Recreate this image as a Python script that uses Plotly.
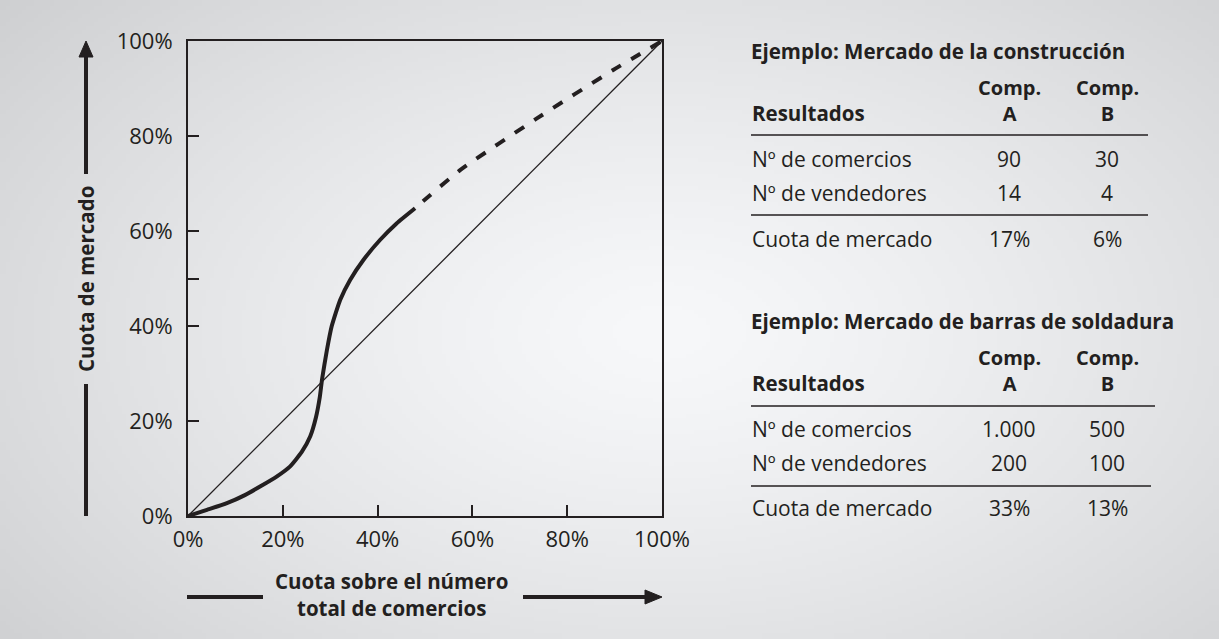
import base64, struct, zlib
import numpy as np
import plotly.graph_objects as go

# ---------------- data ----------------
curve_x = [0, 4, 8.2, 12, 15.2, 18.7, 21.5, 24.0, 25.8, 27.0, 27.8, 28.3, 29.3, 30.3, 32.1, 34.2, 37.0, 40.5, 44.0, 47.9]
curve_y = [0, 1.3, 2.7, 4.4, 6.2, 8.3, 10.4, 13.5, 16.8, 20.8, 25.0, 28.9, 34.9, 39.9, 45.5, 49.7, 53.9, 58.1, 61.6, 64.8]
dash_x = [47.9, 57.4, 73.6, 89.7, 100]
dash_y = [64.8, 72.8, 83.7, 93.9, 100]
diag_x = [0, 100]
diag_y = [0, 100]

x_tickvals = [0, 20, 40, 60, 80, 100]
x_ticktext = ["0%", "20%", "40%", "60%", "80%", "100%"]
y_tickvals = [0, 20, 40, 50, 60, 80, 100]
y_ticktext = ["0%", "20%", "40%", "", "60%", "80%", "100%"]

x_title = ["Cuota sobre el número", "total de comercios"]
y_title = "Cuota de mercado"

row_labels = ["Nº de comercios", "Nº de vendedores", "Cuota de mercado"]
col_head1 = ["Comp.", "Comp."]
col_head2 = ["A", "B"]
t1_title = "Ejemplo: Mercado de la construcción"
t1_A = ["90", "14", "17%"]
t1_B = ["30", "4", "6%"]
t2_title = "Ejemplo: Mercado de barras de soldadura"
t2_A = ["1.000", "200", "33%"]
t2_B = ["500", "100", "13%"]

# ---------------- layout geometry (pixels) ----------------
W, H = 1219, 639
L, R, T, B = 188, 662, 41, 516
PW, PH = R - L, B - T
INK = "#231f20"
FONT = "Open Sans"
BOLD_SIZE = 20.5
HEAD_SIZE = 20
BODY_SIZE = 21
TICK_SIZE = 22


def px(x):
    return (x - L) / PW


def py(y):
    return (B - y) / PH


# ---------------- background gradient ----------------
def make_png(arr):
    h, w, _ = arr.shape
    raw = b"".join(b"\x00" + arr[i].tobytes() for i in range(h))

    def chunk(tag, data):
        c = struct.pack(">I", len(data)) + tag + data
        return c + struct.pack(">I", zlib.crc32(tag + data) & 0xffffffff)

    png = b"\x89PNG\r\n\x1a\n"
    png += chunk(b"IHDR", struct.pack(">IIBBBBB", w, h, 8, 2, 0, 0, 0))
    png += chunk(b"IDAT", zlib.compress(raw, 9))
    png += chunk(b"IEND", b"")
    return "data:image/png;base64," + base64.b64encode(png).decode()


gw, gh = 305, 160
yy, xx = np.mgrid[0:gh, 0:gw]
xx = xx * W / gw
yy = yy * H / gh
d = np.sqrt(((xx - 660) / 720) ** 2 + ((yy - 330) / 430) ** 2)
v = 249 - 32 * np.clip(d, 0, 1.3) ** 1.3
rgb = np.stack([v - 2, v - 1, v + 1], axis=-1)
rgb = np.clip(rgb, 0, 255).astype(np.uint8)
bg_src = make_png(rgb)

# ---------------- figure ----------------
fig = go.Figure()
fig.add_trace(go.Scatter(x=diag_x, y=diag_y, mode="lines",
                         line=dict(color=INK, width=1.3), hoverinfo="skip"))
fig.add_trace(go.Scatter(x=dash_x, y=dash_y, mode="lines",
                         line=dict(color=INK, width=4, dash="0px,10px,11px,2px", shape="spline", smoothing=0.6),
                         hoverinfo="skip"))
fig.add_trace(go.Scatter(x=curve_x, y=curve_y, mode="lines",
                         line=dict(color=INK, width=4, shape="spline", smoothing=0.5),
                         hoverinfo="skip"))

axis_common = dict(range=[0, 100], showgrid=False, zeroline=False, showline=True, mirror=True,
                   linecolor=INK, linewidth=2, ticks="inside", ticklen=11, tickwidth=2,
                   tickcolor=INK, tickfont=dict(family=FONT, size=TICK_SIZE, color=INK), fixedrange=True)
fig.update_xaxes(**axis_common, tickvals=x_tickvals, ticktext=x_ticktext, ticklabelstandoff=3)
fig.update_yaxes(**axis_common, tickvals=y_tickvals, ticktext=y_ticktext, ticklabelstandoff=9)

shapes = []
annotations = []

# y-axis arrow
ax_x = px(86)
shapes.append(dict(type="line", xref="paper", yref="paper", x0=ax_x, x1=ax_x, y0=py(516), y1=py(384),
                   line=dict(color=INK, width=4)))
shapes.append(dict(type="line", xref="paper", yref="paper", x0=ax_x, x1=ax_x, y0=py(174), y1=py(54),
                   line=dict(color=INK, width=4)))
shapes.append(dict(type="path", xref="paper", yref="paper",
                   path=f"M {px(79)} {py(57)} L {px(86)} {py(41)} L {px(93)} {py(57)} Z",
                   fillcolor=INK, line=dict(color=INK, width=1)))
annotations.append(dict(text=f"<b>{y_title}</b>", xref="paper", yref="paper", x=ax_x, y=py(279),
                        textangle=-90, showarrow=False, xanchor="center", yanchor="middle",
                        font=dict(family=FONT, size=BOLD_SIZE, color=INK)))

# x-axis arrow
shapes.append(dict(type="line", xref="paper", yref="paper", x0=px(187), x1=px(263), y0=py(597), y1=py(597),
                   line=dict(color=INK, width=4)))
shapes.append(dict(type="line", xref="paper", yref="paper", x0=px(523), x1=px(648), y0=py(597), y1=py(597),
                   line=dict(color=INK, width=4)))
shapes.append(dict(type="path", xref="paper", yref="paper",
                   path=f"M {px(645)} {py(590)} L {px(662)} {py(597)} L {px(645)} {py(604)} Z",
                   fillcolor=INK, line=dict(color=INK, width=1)))
for txt, yc in zip(x_title, [581, 608]):
    annotations.append(dict(text=f"<b>{txt}</b>", xref="paper", yref="paper", x=px(391), y=py(yc),
                            showarrow=False, xanchor="center", yanchor="middle",
                            font=dict(family=FONT, size=BOLD_SIZE, color=INK)))


# tables
def add_table(title, title_y, head1_y, head2_y, rule1_y, rule1_x1, row_ys, rule2_y, rule2_x1, vals_a, vals_b):
    annotations.append(dict(text=f"<b>{title}</b>", xref="paper", yref="paper", x=px(749), y=py(title_y),
                            showarrow=False, xanchor="left", yanchor="middle",
                            font=dict(family=FONT, size=BOLD_SIZE, color=INK)))
    for cx, h1, h2 in zip([1009, 1107], col_head1, col_head2):
        annotations.append(dict(text=f"<b>{h1}</b><br><b>{h2}</b>", xref="paper", yref="paper",
                                x=px(cx), y=py((head1_y + head2_y) / 2),
                                showarrow=False, xanchor="center", yanchor="middle", align="center",
                                font=dict(family=FONT, size=HEAD_SIZE, color=INK)))
    annotations.append(dict(text="<b>Resultados</b>", xref="paper", yref="paper", x=px(750), y=py(head2_y),
                            showarrow=False, xanchor="left", yanchor="middle",
                            font=dict(family=FONT, size=BOLD_SIZE, color=INK)))
    shapes.append(dict(type="line", xref="paper", yref="paper", x0=px(751), x1=px(rule1_x1),
                       y0=py(rule1_y), y1=py(rule1_y), line=dict(color=INK, width=1.5)))
    shapes.append(dict(type="line", xref="paper", yref="paper", x0=px(751), x1=px(rule2_x1),
                       y0=py(rule2_y), y1=py(rule2_y), line=dict(color=INK, width=1.5)))
    for lab, a, b, ry in zip(row_labels, vals_a, vals_b, row_ys):
        annotations.append(dict(text=lab, xref="paper", yref="paper", x=px(750), y=py(ry),
                                showarrow=False, xanchor="left", yanchor="middle",
                                font=dict(family=FONT, size=BODY_SIZE, color=INK)))
        for cx, val in zip([1009, 1107], [a, b]):
            annotations.append(dict(text=val, xref="paper", yref="paper", x=px(cx), y=py(ry),
                                    showarrow=False, xanchor="center", yanchor="middle",
                                    font=dict(family=FONT, size=BODY_SIZE, color=INK)))


add_table(t1_title, 51, 89, 113, 135, 1148, [159, 193, 239], 215, 1148, t1_A, t1_B)
add_table(t2_title, 321, 358, 383, 406, 1155, [429, 463, 508], 486, 1151, t2_A, t2_B)

fig.update_layout(
    width=W, height=H,
    margin=dict(l=L, r=W - R, t=T, b=H - B, pad=0),
    paper_bgcolor="#e4e5e7", plot_bgcolor="rgba(0,0,0,0)",
    showlegend=False,
    font=dict(family=FONT, color=INK),
    shapes=shapes, annotations=annotations,
    images=[dict(source=bg_src, xref="paper", yref="paper", x=px(0), y=py(0),
                 sizex=W / PW, sizey=H / PH, sizing="stretch", xanchor="left", yanchor="top",
                 layer="below")],
)

fig.write_html("out.html", config={"displayModeBar": False},
               post_script="document.body.style.margin='0';document.body.style.overflow='hidden';")
